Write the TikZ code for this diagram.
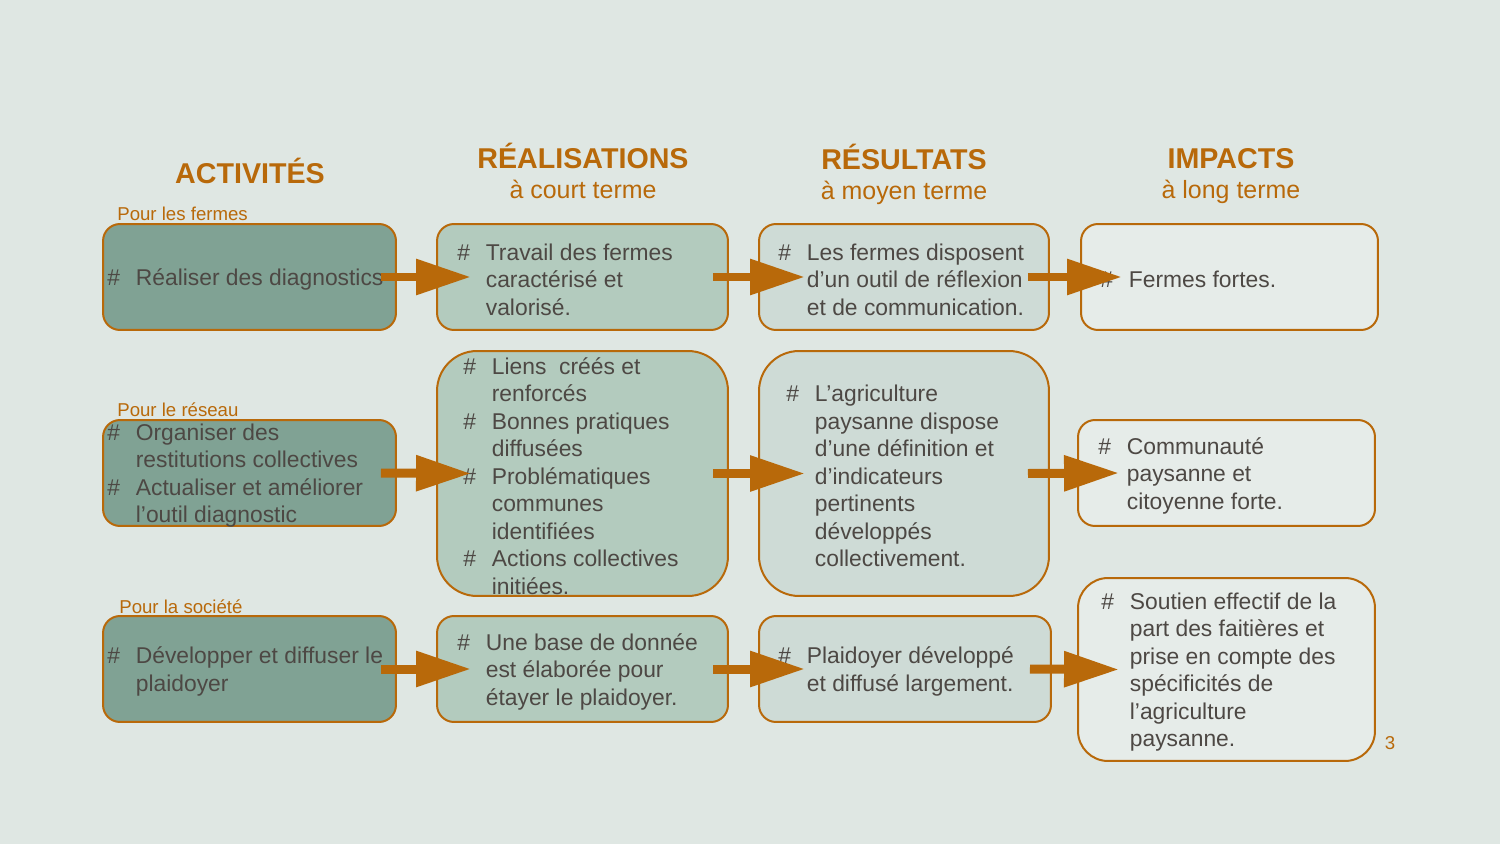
\documentclass[tikz,border=0pt]{standalone}
\usepackage{fontspec}
\setmainfont{Liberation Sans}
\usetikzlibrary{arrows.meta}
\definecolor{fond}{RGB}{223,231,227}
\definecolor{ocre}{RGB}{184,105,10}
\definecolor{gristexte}{RGB}{77,72,68}
\definecolor{actfond}{RGB}{128,162,148}
\definecolor{realfond}{RGB}{179,203,190}
\definecolor{resfond}{RGB}{206,219,214}
\definecolor{impfond}{RGB}{230,236,233}
\newcommand{\dz}{\makebox[0.57cm][l]{\#}}
\newcommand{\rt}{\hspace*{0.57cm}}

\begin{document}
\begin{tikzpicture}[x=0.02cm,y=-0.02cm,
  cadre/.style={draw=ocre, line width=0.04cm, rounded corners=0.34cm, inner sep=0pt},
  petit/.style={cadre, minimum height=2.12cm},
  grand/.style={cadre, minimum height=4.9cm, rounded corners=0.8cm},
  texte/.style={anchor=west, align=left, inner sep=0pt, yshift=-0.05cm, text=gristexte, font=\fontsize{13}{15.65}\selectfont},
  fleche/.style={-{Triangle[length=1.1cm,width=0.68cm]}, line width=0.18cm, draw=ocre},
  titre/.style={anchor=base, text=ocre, inner sep=0pt, font=\fontsize{16.3}{19}\selectfont\bfseries},
  soustitre/.style={anchor=base, text=ocre, inner sep=0pt, font=\fontsize{14.2}{17}\selectfont},
  rubrique/.style={anchor=base west, text=ocre, inner sep=0pt, font=\fontsize{10.6}{12}\selectfont}]
  \fill[fond] (0,0) rectangle (1500,844);
  \useasboundingbox (0,0) rectangle (1500,844);

  \node[titre] (tact) at (250,184) {ACTIVITÉS};
  \node[titre] (treal) at (583,169) {RÉALISATIONS};
  \node[soustitre] (sreal) at (583,199) {à court terme};
  \node[titre] (tres) at (904,170) {RÉSULTATS};
  \node[soustitre] (sres) at (904,200) {à moyen terme};
  \node[titre] (timp) at (1231,169) {IMPACTS};
  \node[soustitre] (simp) at (1231,199) {à long terme};

  \node[rubrique] (pfermes) at (117,221) {Pour les fermes};
  \node[rubrique] (preseau) at (117,416) {Pour le réseau};
  \node[rubrique] (psociete) at (119,613) {Pour la société};

  \node[petit, fill=actfond, minimum width=5.86cm] (a1) at (249.5,277) {};
  \node[petit, fill=realfond, minimum width=5.82cm] (r1) at (582.5,277) {};
  \node[petit, fill=resfond, minimum width=5.8cm] (s1) at (904,277) {};
  \node[petit, fill=impfond, minimum width=5.94cm] (i1) at (1229.5,277) {};

  \node[petit, fill=actfond, minimum width=5.86cm] (a2) at (249.5,473) {};
  \node[grand, fill=realfond, minimum width=5.82cm] (r2) at (582.5,473.5) {};
  \node[grand, fill=resfond, minimum width=5.8cm] (s2) at (904,473.5) {};
  \node[petit, fill=impfond, minimum width=5.94cm] (i2) at (1226.5,473) {};

  \node[petit, fill=actfond, minimum width=5.86cm] (a3) at (249.5,669) {};
  \node[petit, fill=realfond, minimum width=5.82cm] (r3) at (582.5,669) {};
  \node[petit, fill=resfond, minimum width=5.84cm] (s3) at (905,669) {};
  \node[cadre, fill=impfond, minimum width=5.94cm, minimum height=3.66cm, rounded corners=0.6cm] (i3) at (1226.5,669.5) {};

  \node[texte] (ta1) at ([xshift=0.1cm]a1.west) {\dz Réaliser des diagnostics};
  \node[texte] (tr1) at ([xshift=0.42cm]r1.west) {\dz Travail des fermes\\ \rt caractérisé et\\ \rt valorisé.};
  \node[texte] (ts1) at ([xshift=0.4cm]s1.west) {\dz Les fermes disposent\\ \rt d’un outil de réflexion\\ \rt et de communication.};
  \node[texte] (ti1) at ([xshift=0.4cm]i1.west) {\dz Fermes fortes.};

  \node[texte] (ta2) at ([xshift=0.1cm]a2.west) {\dz Organiser des\\ \rt restitutions collectives\\ \dz Actualiser et améliorer\\ \rt l’outil diagnostic};
  \node[texte] (tr2) at ([xshift=0.54cm]r2.west) {\dz Liens\ \ créés et\\ \rt renforcés\\ \dz Bonnes pratiques\\ \rt diffusées\\ \dz Problématiques\\ \rt communes\\ \rt identifiées\\ \dz Actions collectives\\ \rt initiées.};
  \node[texte] (ts2) at ([xshift=0.56cm]s2.west) {\dz L’agriculture\\ \rt paysanne dispose\\ \rt d’une définition et\\ \rt d’indicateurs\\ \rt pertinents\\ \rt développés\\ \rt collectivement.};
  \node[texte] (ti2) at ([xshift=0.42cm]i2.west) {\dz Communauté\\ \rt paysanne et\\ \rt citoyenne forte.};

  \node[texte] (ta3) at ([xshift=0.1cm]a3.west) {\dz Développer et diffuser le\\ \rt plaidoyer};
  \node[texte] (tr3) at ([xshift=0.42cm]r3.west) {\dz Une base de donnée\\ \rt est élaborée pour\\ \rt étayer le plaidoyer.};
  \node[texte] (ts3) at ([xshift=0.4cm]s3.west) {\dz Plaidoyer développé\\ \rt et diffusé largement.};
  \node[texte] (ti3) at ([xshift=0.48cm]i3.west) {\dz Soutien effectif de la\\ \rt part des faitières et\\ \rt prise en compte des\\ \rt spécificités de\\ \rt l’agriculture\\ \rt paysanne.};

  \foreach \r in {1,2,3} {
    \draw[fleche] ([xshift=-0.32cm]a\r.east) -- ([xshift=0.7cm]r\r.west);
    \draw[fleche] ([xshift=-0.32cm]r\r.east) -- ([xshift=0.94cm]s\r.west);
    \draw[fleche] ([xshift=-0.44cm]s\r.east) -- ([xshift=0.84cm]i\r.west);
  }

  \node[rubrique, anchor=base] (num) at (1390,749) {3};
\end{tikzpicture}
\end{document}
